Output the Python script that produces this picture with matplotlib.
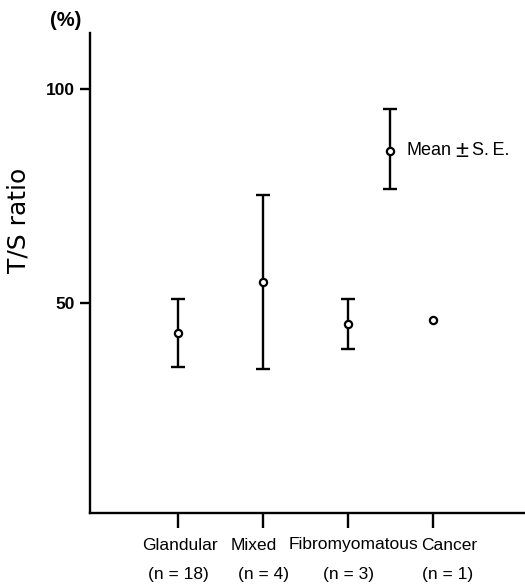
import matplotlib
matplotlib.use("Agg")
import matplotlib.pyplot as plt
from matplotlib.transforms import blended_transform_factory, offset_copy

categories = ["Glandular", "Mixed", "Fibromyomatous", "Cancer"]
n_labels = ["(n = 18)", "(n = 4)", "(n = 3)", "(n = 1)"]
means = [43.0, 54.9, 45.3, 46.1]
upper = [51.0, 75.2, 51.0, None]
lower = [35.2, 34.8, 39.3, None]
legend_mean, legend_upper, legend_lower = 85.6, 95.3, 76.6
yticks = [50, 100]

W, H = 525, 587
fig = plt.figure(figsize=(W / 100, H / 100), dpi=100)
ax = fig.add_axes([90 / W, 1 - 513.3 / H, 1 - 90 / W, (513.3 - 33) / H])

narrow = ["Liberation Sans Narrow", "Liberation Sans", "DejaVu Sans"]
sans = ["Liberation Sans", "DejaVu Sans"]

xs = list(range(1, len(categories) + 1))
lw = 1.7
for x, m, u, l in zip(xs, means, upper, lower):
    if u is not None:
        ax.errorbar([x], [m], yerr=[[m - l], [u - m]], fmt="none", ecolor="black",
                    elinewidth=lw, capsize=4.8, capthick=lw)
    ax.plot([x], [m], "o", ms=5.2, mfc="white", mec="black", mew=1.6, zorder=3)

# legend-like sample
lx = 3.5
ax.errorbar([lx], [legend_mean], yerr=[[legend_mean - legend_lower], [legend_upper - legend_mean]],
            fmt="none", ecolor="black", elinewidth=lw, capsize=4.8, capthick=lw)
ax.plot([lx], [legend_mean], "o", ms=5.2, mfc="white", mec="black", mew=1.6, zorder=3)
px = 0.72  # points per pixel
for txt, dx, ha, fs in [("Mean", 16, "left", 13), ("\u00b1", 71, "center", 17),
                        ("S.\u2009E.", 82, "left", 13)]:
    t = offset_copy(ax.transData, fig=fig, x=dx * px, y=0, units="points")
    ax.text(lx, legend_mean, txt, transform=t, fontsize=fs, va="center", ha=ha,
            family=sans, clip_on=False)

ax.set_xlim(-0.035, 5.083)
ax.set_ylim(1.1, 113)
ax.spines["top"].set_visible(False)
ax.spines["right"].set_visible(False)
ax.spines["left"].set_linewidth(1.7)
ax.spines["bottom"].set_linewidth(1.7)

ax.set_yticks(yticks)
ax.set_yticklabels([str(v) for v in yticks], fontsize=12.5, fontweight="bold", family=narrow)
ax.tick_params(axis="y", direction="out", length=7, width=1.7, pad=4)

ax.set_xticks(xs)
ax.set_xticklabels([])
ax.tick_params(axis="x", direction="out", length=11, width=1.7)

tr = blended_transform_factory(ax.transData, fig.transFigure)
cat_dx = [2, -9, 6, 16]
n_dx = [0, 1, 1, 15]
for x, c, n, dc, dn in zip(xs, categories, n_labels, cat_dx, n_dx):
    t1 = offset_copy(tr, fig=fig, x=dc * px, y=0, units="points")
    t2 = offset_copy(tr, fig=fig, x=dn * px, y=0, units="points")
    ax.text(x, 1 - 545 / H, c, transform=t1, ha="center", va="center", fontsize=12.5,
            family=sans, clip_on=False)
    ax.text(x, 1 - 574 / H, n, transform=t2, ha="center", va="center", fontsize=12.5,
            family=sans, clip_on=False)

fig.text(19 / W, 1 - 220 / H, "T/S ratio", fontsize=18, rotation=90, va="center", ha="center",
         family=["DejaVu Sans"])
fig.text(50 / W, 1 - 21 / H, "(%)", fontsize=14.5, fontweight="bold", va="center", ha="left",
         family=narrow)

fig.savefig("out.png", dpi=100)
